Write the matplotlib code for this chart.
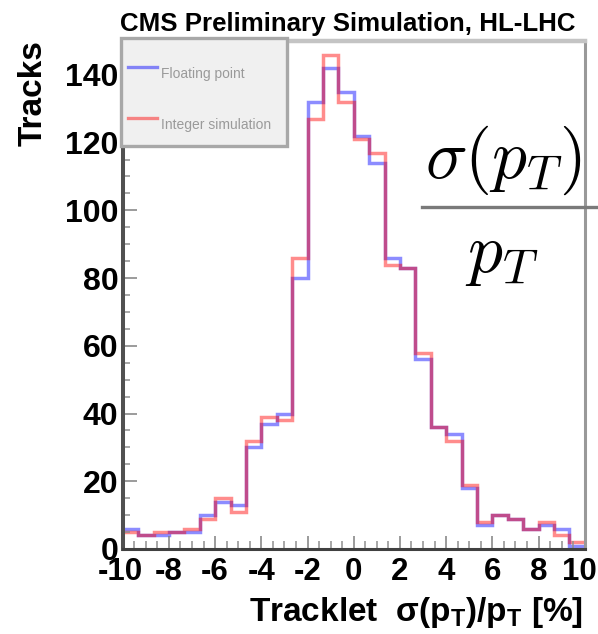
import matplotlib
matplotlib.use("Agg")
import matplotlib.pyplot as plt
import numpy as np
from matplotlib.lines import Line2D
from matplotlib.patches import Rectangle
from matplotlib.ticker import MultipleLocator
from matplotlib.transforms import ScaledTranslation

# ---- data ----
bin_edges = np.linspace(-10, 10, 31)
floating_point = [6, 4, 4, 5, 5, 10, 14, 13, 30, 37, 40, 80, 132, 142, 135,
                  122, 114, 86, 83, 56, 36, 34, 18, 7, 10, 9, 6, 7, 6, 1]
integer_sim = [5, 4, 5, 5, 6, 9, 15, 11, 32, 39, 38, 86, 127, 146, 132,
               121, 117, 84, 83, 58, 36, 32, 19, 8, 10, 9, 6, 8, 4, 2]
labels = ["Floating point", "Integer simulation"]
title = "CMS Preliminary Simulation, HL-LHC"
xlabel = r"Tracklet  σ(p$_{\mathregular{T}}$)/p$_{\mathregular{T}}$ [%]"
ylabel = "Tracks"

plt.rcParams['font.family'] = ['Liberation Sans', 'DejaVu Sans']
plt.rcParams['axes.unicode_minus'] = False

W, H = 598, 634
fig = plt.figure(figsize=(W / 100, H / 100), dpi=100)

def fx(px):
    return px / W

def fy(py):
    return 1 - py / H

ax = fig.add_axes([fx(122.7), fy(549), fx(584.7) - fx(122.7), fy(41) - fy(549)])

blue = (0, 0, 1, 0.45)
red = (1, 0, 0, 0.45)
ax.stairs(floating_point, bin_edges, baseline=None, color=blue, lw=2.5)
ax.stairs(integer_sim, bin_edges, baseline=None, color=red, lw=2.5)

ax.set_xlim(-10, 10)
ax.set_ylim(0, 150)
ax.xaxis.set_major_locator(MultipleLocator(2))
ax.xaxis.set_minor_locator(MultipleLocator(0.5))
ax.yaxis.set_major_locator(MultipleLocator(20))
ax.yaxis.set_minor_locator(MultipleLocator(5))

ax.tick_params(axis='x', which='major', direction='in', length=9.5, width=1.1,
               color='#808080', pad=6, labelsize=22.5)
ax.tick_params(axis='x', which='minor', direction='in', length=5.8, width=1.1,
               color='#909090')
ax.tick_params(axis='y', which='major', direction='in', length=10, width=1.1,
               color='#808080', pad=3, labelsize=23)
ax.tick_params(axis='y', which='minor', direction='in', length=5, width=1.1,
               color='#909090')

fig.canvas.draw()
xt = ax.get_xticklabels()
for lab in xt + ax.get_yticklabels():
    lab.set_fontweight('bold')
# keep the edge labels inside the canvas, as in the reference
for lab in xt:
    if lab.get_text() == '-10':
        lab.set_transform(lab.get_transform() + ScaledTranslation(-2.5 / 100, 0, fig.dpi_scale_trans))
    elif lab.get_text() == '10':
        lab.set_transform(lab.get_transform() + ScaledTranslation(-5.5 / 100, 0, fig.dpi_scale_trans))

ax.spines['left'].set_color('#505050')
ax.spines['left'].set_linewidth(2.9)
ax.spines['bottom'].set_color('#404040')
ax.spines['bottom'].set_linewidth(2.2)
ax.spines['right'].set_color('#999999')
ax.spines['right'].set_linewidth(2.2)
ax.spines['top'].set_color('#c4c4c4')
ax.spines['top'].set_linewidth(3.2)

# title, axis labels
fig.text(fx(120), fy(31), title, ha='left', va='baseline', fontsize=18.6,
         fontweight='bold')
fig.text(fx(42), fy(40), ylabel, rotation=90, rotation_mode='anchor',
         ha='right', va='baseline', fontsize=24, fontweight='bold')
fig.text(fx(583), fy(621), xlabel, ha='right', va='baseline', fontsize=24,
         fontweight='bold')

# legend box (manual, ROOT style)
fig.add_artist(Rectangle((fx(121), fy(146)), fx(287) - fx(121), fy(38) - fy(146),
                         transform=fig.transFigure, facecolor='#f0f0f0',
                         edgecolor='#a8a8a8', lw=2.4, zorder=5))
for col, ly, tb, lab in [(blue, 66.7, 78, labels[0]), (red, 117.5, 129, labels[1])]:
    fig.add_artist(Line2D([fx(128), fx(157)], [fy(ly), fy(ly)], color=col, lw=2.4,
                          transform=fig.transFigure, zorder=6))
    fig.text(fx(161), fy(tb), lab, ha='left', va='baseline', fontsize=10,
             color='#9a9a9a', zorder=6)

# fraction annotation
fig.text(fx(425), fy(178), r'$\sigma(p_T)$', math_fontfamily='cm', fontsize=50,
         ha='left', va='baseline')
fig.add_artist(Line2D([fx(422), 1.0], [fy(207), fy(207)], color='#7a7a7a', lw=2.4,
                      transform=fig.transFigure))
fig.text(fx(465), fy(272), r'$p_T$', math_fontfamily='cm', fontsize=50,
         ha='left', va='baseline')

fig.savefig('out.png', dpi=100)
